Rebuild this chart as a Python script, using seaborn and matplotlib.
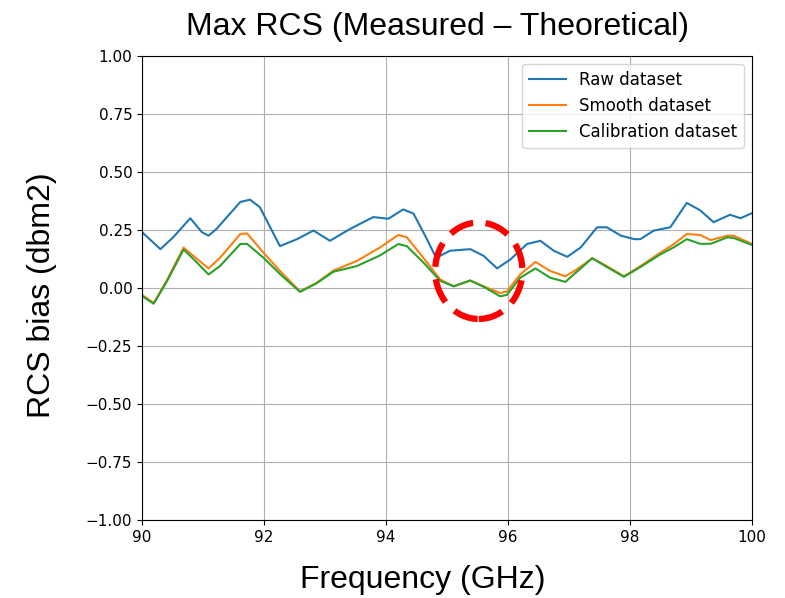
import matplotlib
matplotlib.use("Agg")
import matplotlib.pyplot as plt
from matplotlib.patches import Ellipse
import pandas as pd
import seaborn as sns

# valores
freq_raw = [90.0, 90.3, 90.51, 90.79, 90.98, 91.09, 91.22, 91.61, 91.77, 91.93,
            92.26, 92.54, 92.81, 93.08, 93.41, 93.79, 94.04, 94.28, 94.45, 94.65,
            94.82, 95.05, 95.38, 95.6, 95.82, 96.04, 96.31, 96.53, 96.75, 96.97,
            97.19, 97.46, 97.62, 97.85, 98.07, 98.17, 98.39, 98.66, 98.93, 99.15,
            99.37, 99.64, 99.81, 100.0]
raw = [0.24, 0.167, 0.218, 0.30, 0.24, 0.225, 0.254, 0.37, 0.38, 0.348,
       0.18, 0.21, 0.247, 0.203, 0.254, 0.305, 0.298, 0.338, 0.32, 0.22,
       0.13, 0.16, 0.167, 0.138, 0.084, 0.123, 0.189, 0.203, 0.16, 0.134,
       0.174, 0.261, 0.261, 0.225, 0.21, 0.21, 0.247, 0.261, 0.366, 0.334,
       0.283, 0.315, 0.30, 0.322]

freq_sm = [90.0, 90.19, 90.4, 90.68, 90.84, 91.09, 91.28, 91.61, 91.72, 91.99,
           92.26, 92.59, 92.86, 93.14, 93.52, 93.9, 94.2, 94.34, 94.61, 94.89,
           95.11, 95.38, 95.6, 95.87, 95.98, 96.2, 96.45, 96.69, 96.94, 97.13,
           97.38, 97.62, 97.9, 98.17, 98.5, 98.72, 98.93, 99.15, 99.32, 99.6,
           99.7, 100.0]
smooth = [-0.03, -0.065, 0.03, 0.174, 0.138, 0.084, 0.13, 0.232, 0.235, 0.152,
          0.073, -0.015, 0.022, 0.075, 0.116, 0.174, 0.228, 0.218, 0.13, 0.036,
          0.007, 0.032, 0.007, -0.022, -0.015, 0.058, 0.112, 0.073, 0.05, 0.08,
          0.128, 0.094, 0.05, 0.094, 0.152, 0.189, 0.232, 0.228, 0.206, 0.225,
          0.225, 0.189]
calib = [-0.035, -0.068, 0.025, 0.165, 0.125, 0.058, 0.095, 0.189, 0.19, 0.13,
         0.06, -0.017, 0.02, 0.07, 0.094, 0.14, 0.189, 0.18, 0.11, 0.03,
         0.007, 0.032, 0.005, -0.036, -0.03, 0.044, 0.084, 0.044, 0.026, 0.07,
         0.128, 0.09, 0.048, 0.09, 0.145, 0.175, 0.21, 0.19, 0.19, 0.218,
         0.215, 0.185]

nombres = ["Raw dataset", "Smooth dataset", "Calibration dataset"]
colores = ["#1f77b4", "#ff7f0e", "#2ca02c"]

df = pd.concat([
    pd.DataFrame({"freq": freq_raw, "bias": raw, "dataset": nombres[0]}),
    pd.DataFrame({"freq": freq_sm, "bias": smooth, "dataset": nombres[1]}),
    pd.DataFrame({"freq": freq_sm, "bias": calib, "dataset": nombres[2]}),
])

fig = plt.figure(figsize=(7.85, 5.98), dpi=100)
ax = fig.add_axes([0.181, 0.130, 0.777, 0.777])

sns.lineplot(data=df, x="freq", y="bias", hue="dataset", palette=colores,
             estimator=None, linewidth=1.5, ax=ax)

ax.set_xlim(90, 100)
ax.set_ylim(-1, 1)
ax.set_xticks([90, 92, 94, 96, 98, 100])
ax.set_yticks([-1, -0.75, -0.5, -0.25, 0, 0.25, 0.5, 0.75, 1])
ax.grid(True, color="#b0b0b0", linewidth=0.8)
ax.set_xlabel("")
ax.set_ylabel("")
ax.tick_params(labelsize=11)
ax.legend(loc="upper right", fontsize=12, handlelength=2.2)

# circulo rojo discontinuo
ax.add_patch(Ellipse((95.52, 0.074), 1.43, 0.415, fill=False, edgecolor="red",
                     linewidth=4.5, linestyle=(0, (4, 2)), zorder=5))

fuente = ["Liberation Sans", "DejaVu Sans"]
fig.text(0.557, 0.955, "Max RCS (Measured – Theoretical)", ha="center", va="center",
         fontsize=23, family=fuente)
fig.text(0.539, 0.03, "Frequency (GHz)", ha="center", va="center",
         fontsize=23, family=fuente)
fig.text(0.054, 0.507, "RCS bias (dbm2)", ha="center", va="center", rotation=90,
         fontsize=23, family=fuente)

fig.savefig("out.png", dpi=100)
